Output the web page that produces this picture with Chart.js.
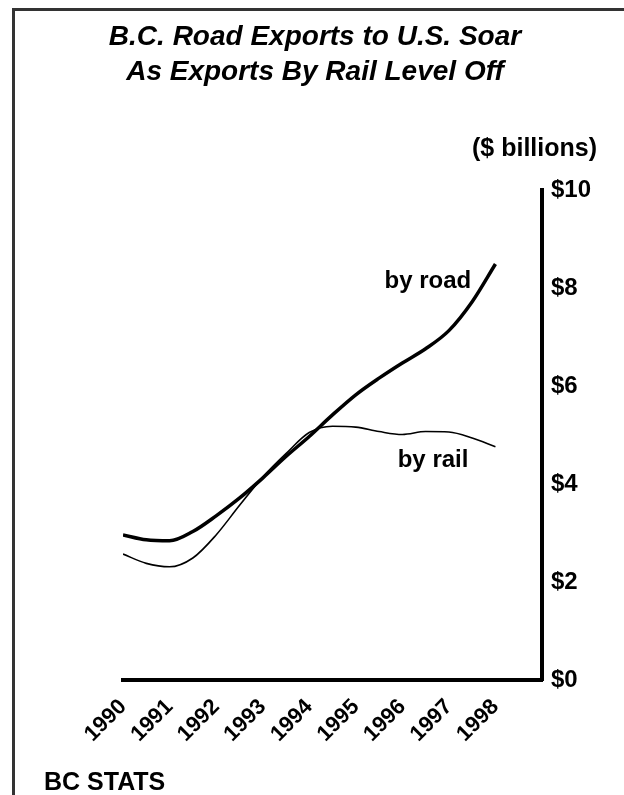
<!DOCTYPE html>
<html>
<head>
<meta charset="utf-8">
<script src="https://cdn.jsdelivr.net/npm/chart.js@4.4.1/dist/chart.umd.min.js"></script>
<style>
  body { margin: 0; background: #fff; }
  #wrap { position: relative; width: 624px; height: 795px; }
  #frame {
    position: absolute; left: 12px; top: 8px; right: 0; bottom: 0;
    border-top: 3px solid #333; border-left: 3px solid #333;
    pointer-events: none;
  }
</style>
</head>
<body>
<div id="wrap">
  <canvas id="exports" width="624" height="795"></canvas>
  <div id="frame"></div>
</div>
<script>
// values, half-year steps
const years = [1990, 1990.5, 1991, 1991.5, 1992, 1992.5, 1993, 1993.5, 1994,
               1994.5, 1995, 1995.5, 1996, 1996.5, 1997, 1997.5, 1998];
const byRoad = [2.96, 2.86, 2.84, 3.03, 3.35, 3.71, 4.12, 4.56, 4.97,
                5.41, 5.82, 6.16, 6.47, 6.76, 7.13, 7.72, 8.49];
const byRail = [2.57, 2.38, 2.31, 2.49, 2.96, 3.56, 4.14, 4.62, 5.05,
                5.18, 5.16, 5.07, 5.01, 5.07, 5.06, 4.94, 4.76];
const yearTicks = [1990, 1991, 1992, 1993, 1994, 1995, 1996, 1997, 1998];
const seriesNames = ['by road', 'by rail'];
const titleLines = ['B.C. Road Exports to U.S. Soar', 'As Exports By Rail Level Off'];
const unitLabel = '($ billions)';
const source = 'BC STATS';

const FONT = '"Liberation Sans", Arial, Helvetica, sans-serif';
Chart.defaults.font.family = FONT;
Chart.defaults.color = '#000';

function toPoints(vals) {
    return years.map((yr, i) => ({ x: yr, y: vals[i] }));
}

// free text: title, unit, line names, source
const textPlugin = {
    id: 'texts',
    afterDraw(chart) {
        const { ctx, scales: { x, y } } = chart;
        ctx.save();
        ctx.fillStyle = '#000';
        ctx.textAlign = 'center';
        ctx.textBaseline = 'middle';
        ctx.font = 'italic bold 28px ' + FONT;
        titleLines.forEach((t, i) => ctx.fillText(t, 315, 37 + i * 35));

        ctx.font = 'bold 25px ' + FONT;
        ctx.textAlign = 'right';
        ctx.fillText(unitLabel, 597, 149);

        ctx.font = 'bold 24px ' + FONT;
        ctx.textAlign = 'center';
        ctx.textBaseline = 'alphabetic';
        ctx.fillText(seriesNames[0], x.getPixelForValue(1996.55), y.getPixelForValue(8.0));
        ctx.fillText(seriesNames[1], x.getPixelForValue(1996.66), y.getPixelForValue(4.35));

        ctx.font = 'bold 25px ' + FONT;
        ctx.textAlign = 'left';
        ctx.fillText(source, 44, 790);
        ctx.restore();
    }
};

new Chart(document.getElementById('exports'), {
    type: 'line',
    data: {
        datasets: [{
            label: seriesNames[0],
            data: toPoints(byRoad),
            borderColor: '#000',
            borderWidth: 3.5
        }, {
            label: seriesNames[1],
            data: toPoints(byRail),
            borderColor: '#000',
            borderWidth: 1.6
        }]
    },
    options: {
        responsive: false,
        animation: false,
        pointRadius: 0,
        cubicInterpolationMode: 'monotone',
        layout: {
            padding: { left: 123, top: 190, right: 0, bottom: 0 }
        },
        plugins: {
            legend: { display: false },
            tooltip: { enabled: false }
        },
        scales: {
            x: {
                type: 'linear',
                min: 1990,
                max: 1999,
                afterFit(scale) { scale.height = 115; },
                afterBuildTicks(scale) {
                    scale.ticks = yearTicks.map(v => ({ value: v }));
                },
                grid: { display: false, drawTicks: false },
                border: { color: '#000', width: 4 },
                ticks: {
                    autoSkip: false,
                    minRotation: 45,
                    maxRotation: 45,
                    padding: 14,
                    font: { size: 22, weight: 'bold' },
                    callback: v => String(v)
                }
            },
            y: {
                position: 'right',
                min: 0,
                max: 10,
                afterFit(scale) { scale.width = 82; },
                grid: { display: false, drawTicks: false },
                border: { color: '#000', width: 4 },
                ticks: {
                    stepSize: 2,
                    padding: 9,
                    font: { size: 24, weight: 'bold' },
                    callback: v => '$' + v
                }
            }
        }
    },
    plugins: [textPlugin]
});
</script>
</body>
</html>
